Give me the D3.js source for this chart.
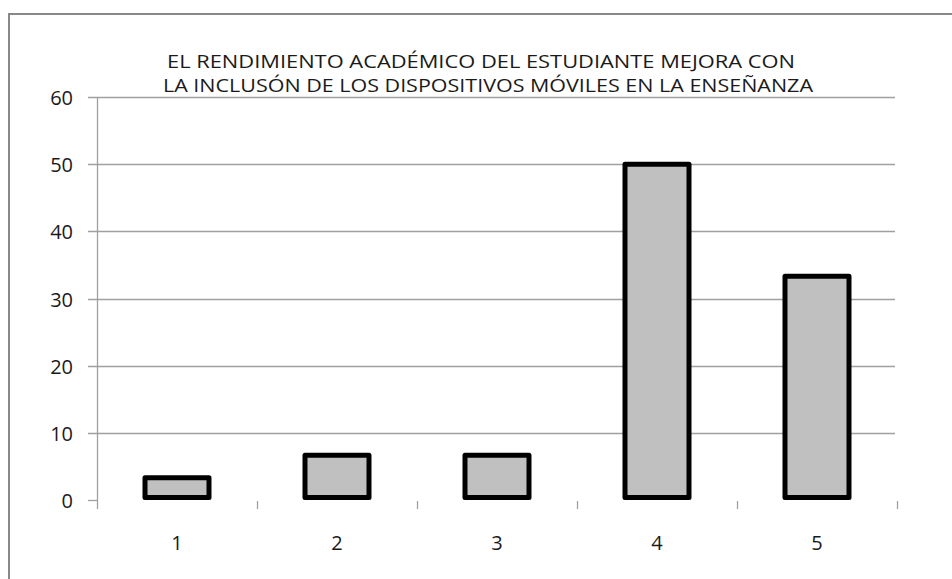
<!DOCTYPE html>
<html>
<head>
<meta charset="utf-8">
<script src="https://cdn.jsdelivr.net/npm/d3@7"></script>
<style>
  html, body { margin: 0; padding: 0; background: #fff; }
  svg { display: block; }
</style>
</head>
<body>
<script>
const categories = ["1", "2", "3", "4", "5"];
const values = [3.33, 6.67, 6.67, 50, 33.33];
const yTicks = [0, 10, 20, 30, 40, 50, 60];
const titleLines = [
  "EL RENDIMIENTO ACADÉMICO DEL ESTUDIANTE MEJORA CON",
  "LA INCLUSÓN DE LOS DISPOSITIVOS MÓVILES EN LA ENSEÑANZA"
];

const W = 952, H = 579;
const svg = d3.select("body").append("svg").attr("width", W).attr("height", H);

// outer chart frame (only top/left visible)
svg.append("rect").attr("x", 9).attr("y", 14).attr("width", W + 20).attr("height", H + 20)
  .attr("fill", "#fff").attr("stroke", "#888").attr("stroke-width", 2);

const plot = { left: 97, right: 897, top: 97, bottom: 500 };

const x = d3.scaleBand().domain(categories).range([plot.left, plot.right])
  .paddingInner(0.6).paddingOuter(0.3);
const y = d3.scaleLinear().domain([0, 60]).range([plot.bottom, plot.top]);

const fontFam = "'Open Sans', 'Liberation Sans', sans-serif";

// gridlines (except zero)
svg.append("g").selectAll("line").data(yTicks.filter(t => t !== 0)).join("line")
  .attr("x1", plot.left - 9).attr("x2", plot.right - 2)
  .attr("y1", d => Math.round(y(d)) + 0.5).attr("y2", d => Math.round(y(d)) + 0.5)
  .attr("stroke", "#a0a0a0").attr("stroke-width", 1.3);

// zero tick on y axis
svg.append("line").attr("x1", plot.left - 9).attr("x2", plot.left)
  .attr("y1", y(0) + 0.5).attr("y2", y(0) + 0.5).attr("stroke", "#a0a0a0").attr("stroke-width", 1.3);

// y axis line
svg.append("line").attr("x1", plot.left + 0.5).attr("x2", plot.left + 0.5)
  .attr("y1", plot.top).attr("y2", plot.bottom + 9)
  .attr("stroke", "#a0a0a0").attr("stroke-width", 1.3);

// x tick marks at category boundaries
const boundaries = categories.map(c => x(c) + x.bandwidth() + x.step() * x.paddingInner() / 2);
svg.append("g").selectAll("line").data(boundaries).join("line")
  .attr("x1", d => Math.round(d) + 0.5).attr("x2", d => Math.round(d) + 0.5)
  .attr("y1", plot.bottom + 1).attr("y2", plot.bottom + 9)
  .attr("stroke", "#a0a0a0").attr("stroke-width", 1.3);

// y labels
svg.append("g").selectAll("text").data(yTicks).join("text")
  .attr("x", 73).attr("y", d => y(d) + 8)
  .attr("text-anchor", "end")
  .attr("font-family", fontFam).attr("font-size", 20)
  .attr("fill", "#1a1a1a")
  .text(d => d);

// x labels
svg.append("g").selectAll("text").data(categories).join("text")
  .attr("x", d => x(d) + x.bandwidth() / 2).attr("y", 550)
  .attr("text-anchor", "middle")
  .attr("font-family", fontFam).attr("font-size", 20)
  .attr("fill", "#1a1a1a")
  .text(d => d);

// bars
svg.append("g").selectAll("rect").data(values).join("rect")
  .attr("x", (d, i) => x(categories[i]))
  .attr("width", x.bandwidth())
  .attr("y", d => y(d))
  .attr("height", d => y(0) - y(d) - 2.5)
  .attr("fill", "#c0c0c0")
  .attr("stroke", "#000").attr("stroke-width", 5)
  .attr("stroke-linejoin", "round");

// title
const titleX = [167, 163];
const titleW = [628, 650];
svg.append("g").selectAll("text").data(titleLines).join("text")
  .attr("x", (d, i) => titleX[i]).attr("y", (d, i) => 68 + i * 24)
  .attr("textLength", (d, i) => titleW[i])
  .attr("lengthAdjust", "spacingAndGlyphs")
  .attr("font-family", fontFam).attr("font-size", 18)
  .attr("fill", "#1a1a1a")
  .text(d => d);
</script>
</body>
</html>
